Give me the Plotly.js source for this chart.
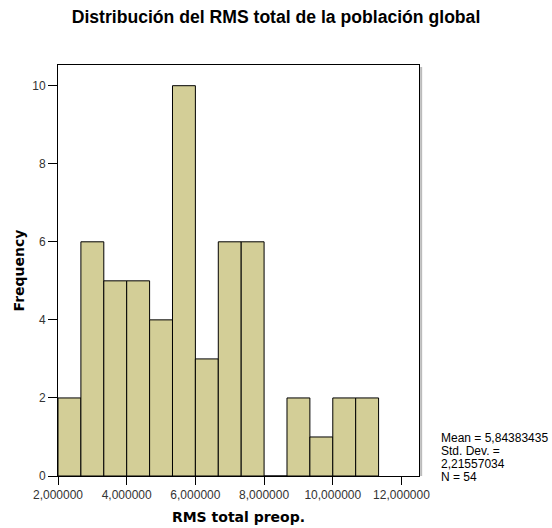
<!DOCTYPE html>
<html>
<head>
<meta charset="utf-8">
<script src="https://cdn.plot.ly/plotly-3.0.1.min.js"></script>
<style>html,body{margin:0;padding:0;background:#fff;}#chart{width:552px;height:528px;}</style>
</head>
<body>
<div id="chart"></div>
<script>
// Histogram bins (start + width) and frequencies
var binStart = 2.0;
var binWidth = 2 / 3;
var counts = [2, 6, 5, 5, 4, 10, 3, 6, 6, 0, 2, 1, 2, 2];
var xTickVals = [2, 4, 6, 8, 10, 12];
var xTickText = ["2,000000", "4,000000", "6,000000", "8,000000", "10,000000", "12,000000"];
var yTickVals = [0, 2, 4, 6, 8, 10];
var statsLines = ["Mean = 5,84383435", "Std. Dev. =", "2,21557034", "N = 54"];

var centers = counts.map(function (c, i) { return binStart + binWidth * (i + 0.5); });

var trace = {
  type: 'bar',
  x: centers,
  y: counts,
  width: counts.map(function () { return binWidth; }),
  marker: { color: '#d3ce97', line: { color: '#000000', width: 1 } },
  hoverinfo: 'x+y'
};

var axisFont = { family: 'Liberation Sans, Arial, sans-serif', size: 12, color: '#333333' };

var statsAnn = statsLines.map(function (t, i) {
  return {
    xref: 'paper', yref: 'paper',
    x: 1 + (439 - 419) / 361, y: 0, xanchor: 'left', yanchor: 'middle',
    yshift: (476 - 438) - 13 * i,
    align: 'left', showarrow: false,
    text: t,
    font: { family: 'Liberation Sans, Arial, sans-serif', size: 12, color: '#000000' }
  };
});

var layout = {
  width: 552,
  height: 528,
  margin: { l: 58, r: 133, t: 65, b: 52 },
  paper_bgcolor: '#ffffff',
  plot_bgcolor: '#ffffff',
  showlegend: false,
  bargap: 0,
  title: {
    text: 'Distribución del RMS total de la población global',
    font: { family: 'Liberation Sans, Arial, sans-serif', size: 17.6, color: '#000000', weight: 'bold' },
    x: 0.5, xref: 'container', xanchor: 'center',
    y: 1 - 17 / 528, yref: 'container', yanchor: 'middle'
  },
  xaxis: {
    range: [2, 12.51],
    tickmode: 'array',
    tickvals: xTickVals,
    ticktext: xTickText,
    ticks: 'outside', ticklen: 8, tickcolor: '#000000', tickwidth: 1,
    showline: true, mirror: true, linecolor: '#000000', linewidth: 1,
    showgrid: false, zeroline: false,
    tickfont: axisFont,
    automargin: false,
    title: {
      text: 'RMS total preop.',
      font: { family: 'DejaVu Sans, sans-serif', size: 14, color: '#000000', weight: 'bold' },
      standoff: 10
    }
  },
  yaxis: {
    range: [0, 10.53],
    tickmode: 'array',
    tickvals: yTickVals,
    ticks: 'outside', ticklen: 9, tickcolor: '#000000', tickwidth: 1,
    showline: true, mirror: true, linecolor: '#000000', linewidth: 1,
    showgrid: false, zeroline: false,
    tickfont: axisFont,
    automargin: false,
    title: {
      text: 'Frequency',
      font: { family: 'DejaVu Sans, sans-serif', size: 14, color: '#000000', weight: 'bold' },
      standoff: 4
    }
  },
  shapes: [
    { type: 'line', xref: 'paper', yref: 'paper', x0: 1.006, x1: 1.006, y0: 0, y1: 0.995,
      line: { color: '#bbbbbb', width: 2 } }
  ],
  annotations: statsAnn
};

Plotly.newPlot('chart', [trace], layout, { displayModeBar: false, staticPlot: true });
</script>
</body>
</html>
